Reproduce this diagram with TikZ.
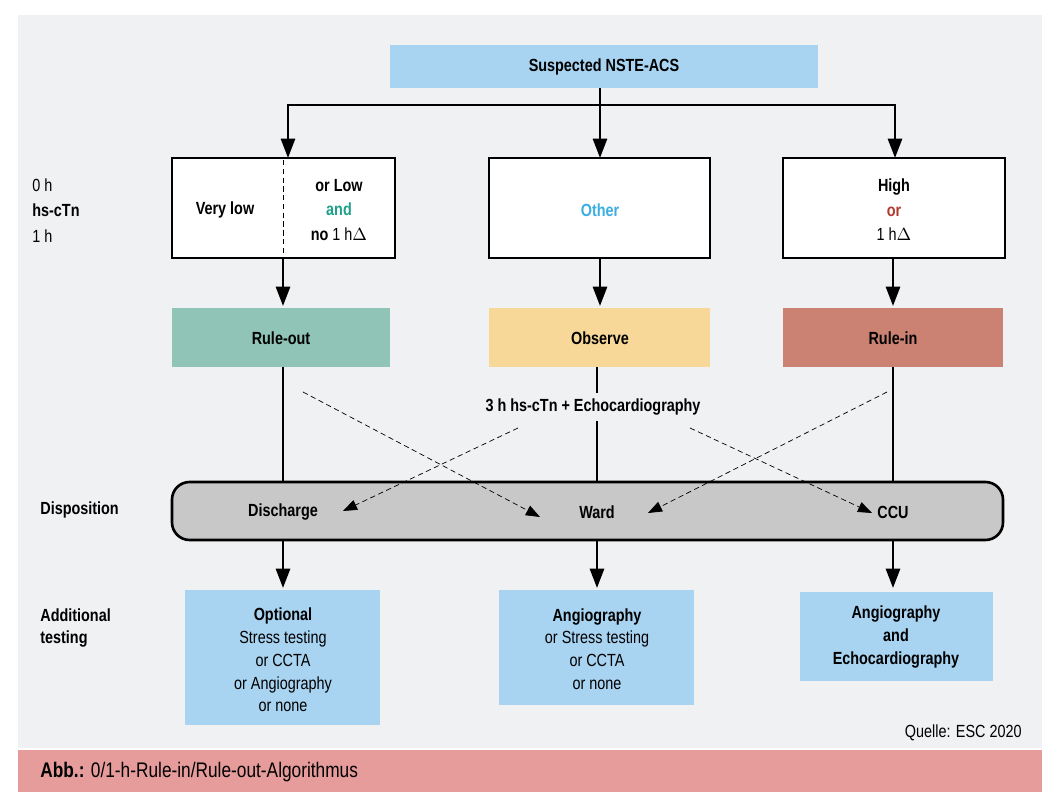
\documentclass[tikz,border=0pt]{standalone}
\usepackage{fontspec}
\setmainfont{Liberation Sans}[FakeStretch=0.82]
\usetikzlibrary{positioning,arrows.meta}
\definecolor{panel}{HTML}{F0F1F3}
\definecolor{skyblue}{HTML}{A8D4F2}
\definecolor{ruleout}{HTML}{8FC4B6}
\definecolor{observe}{HTML}{F7D898}
\definecolor{rulein}{HTML}{CC8272}
\definecolor{dispo}{HTML}{C8C8C8}
\definecolor{barpink}{HTML}{E79C9C}
\definecolor{andgreen}{HTML}{1FA088}
\definecolor{orred}{HTML}{B03A30}
\definecolor{otherblue}{HTML}{3AAEE0}
\tikzset{
  box/.style={draw=black,line width=1.5pt,fill=white,minimum width=222\pgflinewidth,align=center},
  tag/.style={font=\bfseries\fontsize{10}{12}\selectfont,align=center,inner sep=0pt},
  side/.style={anchor=west,align=left,font=\fontsize{10}{12}\selectfont,inner sep=0pt},
  flow/.style={line width=1.5pt,-{Triangle[width=8pt,length=11pt]}},
  cross/.style={densely dashed,thin,-{Triangle[width=6pt,length=8pt]}},
}
\begin{document}
\begin{tikzpicture}[x=0.02cm,y=-0.02cm,font=\fontsize{10}{12}\selectfont]
        % frame and caption bar
        \useasboundingbox (0,0) rectangle (1059,807);
        \fill[panel] (18,15) rectangle (1042,748);
        \fill[barpink] (18,750) rectangle (1042,792);
        \node[side,font=\fontsize{12}{14}\selectfont] (cap) at (40,772) {\textbf{Abb.:} 0/1-h-Rule-in/Rule-out-Algorithmus};
        \node[anchor=east,inner sep=0pt] (src) at (1022,733) {Quelle: ESC 2020};

        % start box
        \fill[skyblue] (390,45) rectangle (818,88);
        \node[tag] (start) at (604,67) {Suspected NSTE-ACS};

        % hs-cTn boxes
        \draw[box] (172,158) rectangle (395,258);
        \draw[densely dashed,thin] (283,160) -- (283,256);
        \draw[box] (489,158) rectangle (710,258);
        \draw[box] (783,158) rectangle (1005,258);
        \node[tag] (vlow) at (225,210) {Very low};
        \node[tag] (low) at (339,210) {or Low\\[2pt]\textcolor{andgreen}{and}\\[2pt]no \mdseries 1 h$\Delta$};
        \node[tag,text=otherblue] (other) at (600,210) {Other};
        \node[tag] (high) at (894,210) {High\\[2pt]\textcolor{orred}{or}\\[2pt]\mdseries 1 h$\Delta$};
        \coordinate (lefttop) at (288,158);
        \coordinate (midtop) at (600,158);
        \coordinate (righttop) at (895,158);

        \node[side] (t0) at (32,185) {0 h};
        \node[side,font=\bfseries\fontsize{10}{12}\selectfont] (tn) at (32,210) {hs-cTn};
        \node[side] (t1) at (32,236) {1 h};

        % split from start
        \draw[line width=1.5pt] (600,88) -- (600,105);
        \draw[line width=1.5pt] (288,105) -- (895,105);
        \foreach \p in {lefttop,midtop,righttop}
                \draw[flow] (\p |- 0,104) -- (\p);

        % triage boxes
        \fill[ruleout] (172,308) rectangle (390,367);
        \fill[observe] (489,308) rectangle (710,367);
        \fill[rulein] (783,308) rectangle (1003,367);
        \node[tag] (out) at (281,338) {Rule-out};
        \node[tag] (obs) at (600,338) {Observe};
        \node[tag] (in) at (893,338) {Rule-in};
        \foreach \x in {283,600,893}
                \draw[flow] (\x,258) -- (\x,306);

        % disposition bar
        \draw[line width=1.5pt,fill=dispo,rounded corners=10pt] (172,482) rectangle (1003,540);
        \node[tag] (dis) at (283,512) {Discharge};
        \node[tag] (ward) at (597,512) {Ward};
        \node[tag] (ccu) at (893,512) {CCU};
        \node[side,font=\bfseries\fontsize{10}{12}\selectfont] (dlab) at (40,510) {Disposition};
        \node[tag] (echo) at (593,407) {3 h hs-cTn + Echocardiography};

        \draw[line width=1.5pt] (283,367) -- (283,482);
        \draw[line width=1.5pt] (597,367) -- (597,393);
        \draw[line width=1.5pt] (597,421) -- (597,482);
        \draw[line width=1.5pt] (893,367) -- (893,482);

        % cross-over paths
        \draw[cross] (303,392) -- (540,517);
        \draw[cross] (518,428) -- (343,511);
        \draw[cross] (690,428) -- (872,513);
        \draw[cross] (887,392) -- (648,513);

        % further testing
        \foreach \x in {283,597,893}
                \draw[flow] (\x,540) -- (\x,588);
        \fill[skyblue] (185,590) rectangle (380,725);
        \fill[skyblue] (499,590) rectangle (694,705);
        \fill[skyblue] (800,592) rectangle (993,681);
        \node[align=center,inner sep=0pt] (opt) at (283,660) {\textbf{Optional}\\[1pt]Stress testing\\[1pt]or CCTA\\[1pt]or Angiography\\[1pt]or none};
        \node[align=center,inner sep=0pt] (angio) at (597,649) {\textbf{Angiography}\\[1pt]or Stress testing\\[1pt]or CCTA\\[1pt]or none};
        \node[align=center,inner sep=0pt,font=\bfseries\fontsize{10}{12}\selectfont] (angecho) at (896,637) {Angiography\\[1pt]and\\[1pt]Echocardiography};
        \node[side,font=\bfseries\fontsize{10}{12}\selectfont] (add) at (40,628) {Additional\\testing};
\end{tikzpicture}
\end{document}
